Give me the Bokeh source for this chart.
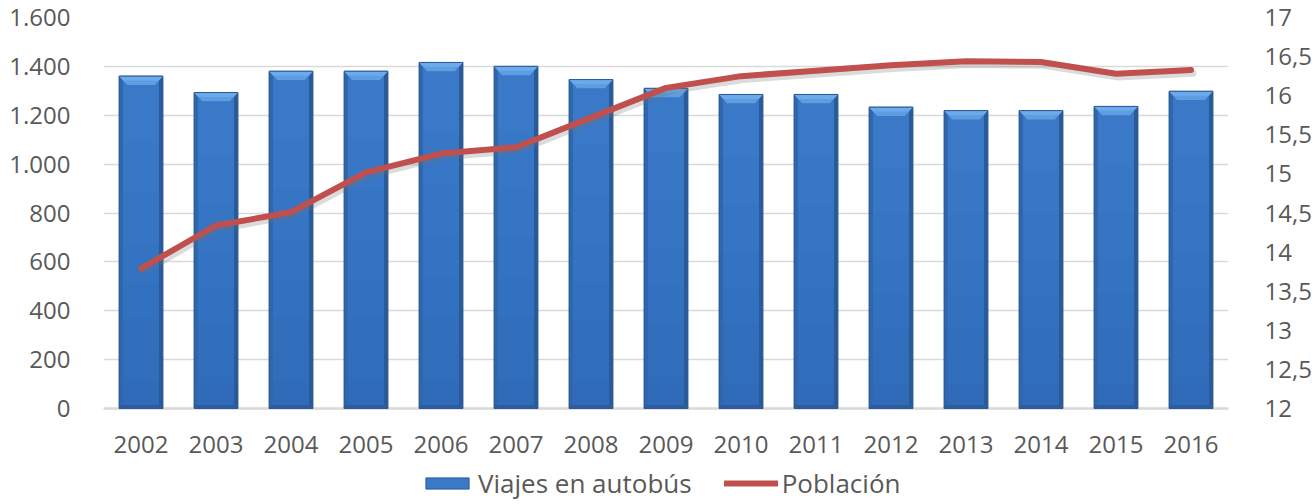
import numpy as np
from bokeh.plotting import figure
from bokeh.models import (Range1d, LinearAxis, FixedTicker, CustomJSTickFormatter,
                          Legend, LegendItem, Span)
from bokeh.core.properties import value
from bokeh.embed import file_html
from bokeh.resources import INLINE

# ---- data ----
years = ["2002", "2003", "2004", "2005", "2006", "2007", "2008", "2009",
         "2010", "2011", "2012", "2013", "2014", "2015", "2016"]
viajes = [1360, 1293, 1380, 1380, 1416, 1400, 1346, 1310,
          1285, 1285, 1233, 1219, 1219, 1236, 1298]
poblacion = [13.79, 14.34, 14.51, 15.02, 15.26, 15.34, 15.72, 16.10,
             16.25, 16.32, 16.39, 16.44, 16.43, 16.28, 16.33]
left_ticks = [0, 200, 400, 600, 800, 1000, 1200, 1400, 1600]
right_ticks = [12, 12.5, 13, 13.5, 14, 14.5, 15, 15.5, 16, 16.5, 17]

FONT = "Open Sans"
TXT = "#595959"
GRID = "#D9D9D9"

W, H = 1314, 504
TOP, BOTTOM_AXIS_PX, PLOT_PX = 17, 96, 391   # frame top, space below the zero line, 0..max height
# extend the frame below the zero line so the category labels and legend live inside it
k_left = (left_ticks[-1] - left_ticks[0]) / PLOT_PX
k_right = (right_ticks[-1] - right_ticks[0]) / PLOT_PX
y0 = left_ticks[0] - BOTTOM_AXIS_PX * k_left
y0r = right_ticks[0] - BOTTOM_AXIS_PX * k_right

p = figure(width=W, height=H, output_backend="svg", toolbar_location=None,
           title=None,
           x_range=Range1d(-0.5, len(years) - 0.5),
           y_range=Range1d(y0, left_ticks[-1]),
           min_border_left=103, min_border_right=81,
           min_border_top=TOP, min_border_bottom=0)
p.extra_y_ranges = {"pop": Range1d(y0r, right_ticks[-1])}
p.outline_line_color = None
p.background_fill_color = "white"
p.border_fill_color = "white"

x = np.arange(len(years), dtype=float)
v = np.array(viajes, dtype=float)
bw = 0.58
half = bw / 2

# ---- grid / baseline ----
p.xgrid.grid_line_color = None
p.ygrid.ticker = FixedTicker(ticks=left_ticks)
p.ygrid.grid_line_color = GRID
p.ygrid.grid_line_width = 1.5
p.add_layout(Span(location=left_ticks[0], dimension="width", line_color=GRID,
                  line_width=2.5, level="underlay"))

# ---- bars (bevelled look) ----
bars = p.vbar(x=x, top=v, bottom=0, width=bw, fill_color="#3A79C7",
              line_color="#2C5B97", line_width=1)
for frac in [0.8, 0.65, 0.5, 0.38, 0.27, 0.17, 0.08]:
    p.quad(left=x - half, right=x + half, bottom=0, top=v * frac,
           fill_color="#0E2750", fill_alpha=0.02, line_color=None)
ds = 0.05
p.quad(left=x - half, right=x - half + ds, bottom=0, top=v,
       fill_color="#2F66AD", line_color=None)
p.quad(left=x + half - ds, right=x + half, bottom=0, top=v,
       fill_color="#2A5A98", line_color=None)
p.quad(left=x - half, right=x + half, bottom=0, top=14,
       fill_color="#2C5C9C", line_color=None)
dx = 0.105
bh = 36.0
txs = [[xi - half, xi + half, xi + half - dx, xi - half + dx] for xi in x]
tys = [[vi, vi, vi - bh, vi - bh] for vi in v]
p.patches(xs=txs, ys=tys, fill_color="#5E9DE2", line_color=None)
txs2 = [[xi - half, xi + half, xi + half - dx / 2, xi - half + dx / 2] for xi in x]
tys2 = [[vi, vi, vi - bh / 2, vi - bh / 2] for vi in v]
p.patches(xs=txs2, ys=tys2, fill_color="#6DAAEA", line_color=None)
p.vbar(x=x, top=v, bottom=0, width=bw, fill_color=None,
       line_color="#2C5B97", line_width=1)

# ---- line ----
pp = np.array(poblacion)
p.line(x + 0.03, pp - 0.045, y_range_name="pop", line_color="#6F6F6F",
       line_alpha=0.25, line_width=6.5, line_cap="round", line_join="round")
line = p.line(x, pp, y_range_name="pop", line_color="#C0504D", line_width=6,
              line_cap="round", line_join="round")

# ---- category labels (below zero line) ----
label_y = left_ticks[0] - 36 * k_left
p.text(x=x, y=[label_y] * len(years), text=years, text_align="center",
       text_baseline="middle", text_font=value(FONT), text_font_size="24px",
       text_color=TXT)

# ---- axes ----
p.xaxis.visible = False

p.yaxis.ticker = FixedTicker(ticks=left_ticks)
p.yaxis.formatter = CustomJSTickFormatter(code="""
    if (tick >= 1000) {
        return Math.floor(tick/1000) + '.' + String(tick % 1000).padStart(3, '0');
    }
    return String(tick);
""")
p.yaxis.axis_line_color = None
p.yaxis.major_label_standoff = 27

ra = LinearAxis(y_range_name="pop", ticker=FixedTicker(ticks=right_ticks),
                formatter=CustomJSTickFormatter(code="return String(tick).replace('.', ',');"))
ra.axis_line_color = None
ra.major_label_standoff = 30
p.add_layout(ra, "right")

for ax in [p.yaxis[0], ra]:
    ax.major_tick_line_color = None
    ax.minor_tick_line_color = None
    ax.major_label_text_font = FONT
    ax.major_label_text_font_size = "24px"
    ax.major_label_text_color = TXT

# ---- legend ----
legend = Legend(items=[LegendItem(label="Viajes en autobús", renderers=[bars]),
                       LegendItem(label="Población", renderers=[line])],
                orientation="horizontal", location=(317, 3),
                border_line_color=None, background_fill_alpha=0,
                label_text_font=FONT, label_text_font_size="26px",
                label_text_color=TXT, glyph_width=54, glyph_height=14,
                spacing=32, padding=0, margin=0, label_standoff=4)
p.add_layout(legend, "center")

open("out.html", "w").write(file_html(p, INLINE))
